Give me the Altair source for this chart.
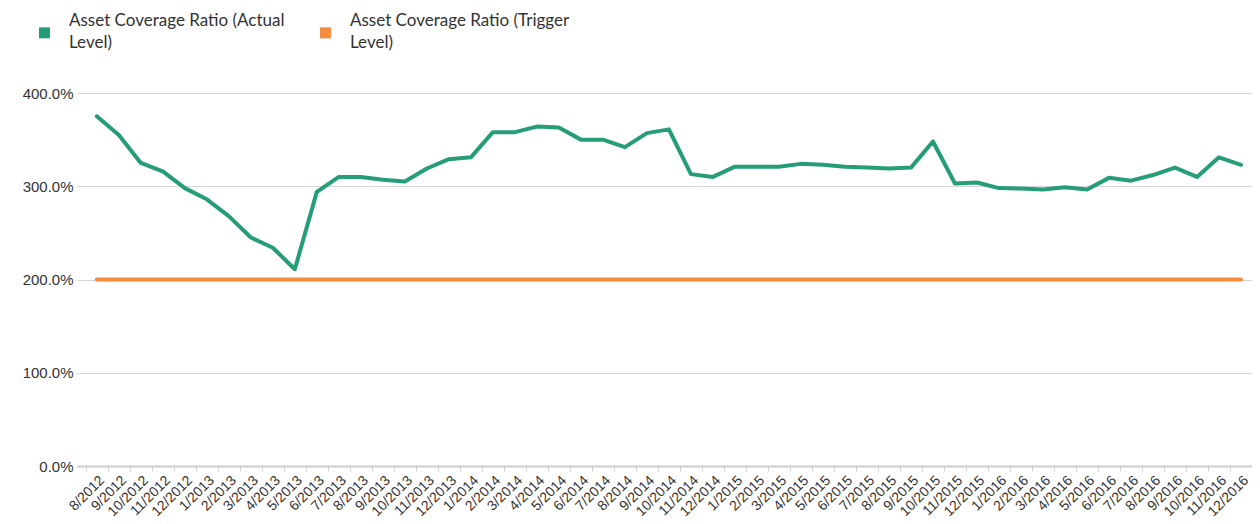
import altair as alt
import pandas as pd

months = [
    "8/2012", "9/2012", "10/2012", "11/2012", "12/2012",
    "1/2013", "2/2013", "3/2013", "4/2013", "5/2013", "6/2013",
    "7/2013", "8/2013", "9/2013", "10/2013", "11/2013", "12/2013",
    "1/2014", "2/2014", "3/2014", "4/2014", "5/2014", "6/2014",
    "7/2014", "8/2014", "9/2014", "10/2014", "11/2014", "12/2014",
    "1/2015", "2/2015", "3/2015", "4/2015", "5/2015", "6/2015",
    "7/2015", "8/2015", "9/2015", "10/2015", "11/2015", "12/2015",
    "1/2016", "2/2016", "3/2016", "4/2016", "5/2016", "6/2016",
    "7/2016", "8/2016", "9/2016", "10/2016", "11/2016", "12/2016",
]

actual_level = [
    375, 355, 325, 316, 298,
    286, 268, 245, 234, 211, 294,
    310, 310, 307, 305, 319, 329,
    331, 358, 358, 364, 363, 350,
    350, 342, 357, 361, 313, 310,
    321, 321, 321, 324, 323, 321,
    320, 319, 320, 348, 303, 304,
    298, 297.5, 296.5, 299, 296.5, 309,
    306, 312, 320, 310, 331, 323,
]

trigger_level = [
    200, 200, 200, 200, 200,
    200, 200, 200, 200, 200, 200,
    200, 200, 200, 200, 200, 200,
    200, 200, 200, 200, 200, 200,
    200, 200, 200, 200, 200, 200,
    200, 200, 200, 200, 200, 200,
    200, 200, 200, 200, 200, 200,
    200, 200, 200, 200, 200, 200,
    200, 200, 200, 200, 200, 200,
]

series_names = [
    "Asset Coverage Ratio (Actual Level)",
    "Asset Coverage Ratio (Trigger Level)",
]
series_colors = ["#259d78", "#f68c3e"]
y_ticks = [0, 100, 200, 300, 400]

df = pd.DataFrame({
    "month": months + months,
    "value": actual_level + trigger_level,
    "series": [series_names[0]] * len(months) + [series_names[1]] * len(months),
})

x_enc = alt.X(
    "month:O",
    sort=months,
    bandPosition=0.5,
    scale=alt.Scale(type="band", paddingInner=0, paddingOuter=0.2, align=1),
    axis=alt.Axis(
        title=None, labelAngle=-45, tickBand="extent", tickSize=5,
        tickColor="#d0d0d0", domainColor="#cccccc", domainWidth=2,
        labelPadding=2, grid=False, labelOverlap=False,
        labelFont="Liberation Sans", labelFontSize=14, labelColor="#333333",
    ),
)
y_enc = alt.Y(
    "value:Q",
    scale=alt.Scale(domain=[0, 400], nice=False),
    axis=alt.Axis(
        title=None, values=y_ticks, ticks=False, domain=False,
        gridColor="#d6d6d6", gridWidth=1.2, labelPadding=4,
        labelExpr="format(datum.value, '.1f') + '%'",
        labelFont="Liberation Sans", labelFontSize=15, labelColor="#333333",
    ),
)

base = alt.Chart(df)

lines = base.mark_line(strokeWidth=4, strokeCap="round", strokeJoin="round").encode(
    x=x_enc,
    y=y_enc,
    stroke=alt.Stroke("series:N", scale=alt.Scale(domain=series_names, range=series_colors), legend=None),
)

legend_layer = base.mark_square(opacity=0, size=10).encode(
    x=x_enc,
    y=y_enc,
    color=alt.Color(
        "series:N",
        scale=alt.Scale(domain=series_names, range=series_colors),
        legend=alt.Legend(
            title=None, orient="none", legendX=-41, legendY=-81,
            direction="horizontal", columns=2,
            symbolType="M-1,1.2H1V3.2H-1Z", symbolSize=121, symbolOpacity=1, symbolStrokeWidth=0,
            labelFont="Lato", labelFontSize=17, labelColor="#333333",
            labelOffset=16, columnPadding=32, labelLimit=400,
            labelExpr="[slice(datum.label, 0, lastindexof(datum.label, ' ')), slice(datum.label, lastindexof(datum.label, ' ') + 1)]",
        ),
    ),
)

chart = (
    alt.layer(legend_layer, lines)
    .resolve_scale(color="independent")
    .properties(
        width=1175,
        height=373,
        autosize=alt.AutoSizeParams(type="none"),
        padding={"left": 69, "top": 85, "right": 0, "bottom": 54},
    )
    .configure(style={"guide-label": {"lineHeight": 22}})
    .configure_view(strokeWidth=0)
)

chart.save("out.html", embed_options={"renderer": "svg", "actions": False})
